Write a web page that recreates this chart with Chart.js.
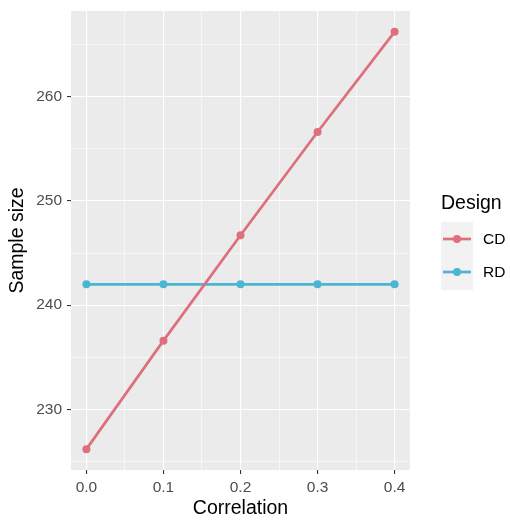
<!DOCTYPE html>
<html>
<head>
<meta charset="utf-8">
<script src="https://cdn.jsdelivr.net/npm/chart.js@4.4.0/dist/chart.umd.min.js"></script>
<style>
  body { margin: 0; background: #fff; }
  #wrap { width: 510px; height: 521px; }
</style>
</head>
<body>
<div id="wrap"><canvas id="diagramm" width="510" height="521"></canvas></div>
<script>
const correlation = [0.0, 0.1, 0.2, 0.3, 0.4];
const cdValues = [226.2, 236.6, 246.7, 256.6, 266.2];
const rdValues = [242.0, 242.0, 242.0, 242.0, 242.0];
const seriesNames = ["CD", "RD"];
const seriesColors = ["#DE6F7C", "#4BB6D1"];
const xGrid = [0, 0.05, 0.1, 0.15, 0.2, 0.25, 0.3, 0.35, 0.4];
const xMajor = [0, 0.1, 0.2, 0.3, 0.4];
const yGrid = [225, 230, 235, 240, 245, 250, 255, 260, 265];
const yMajor = [230, 240, 250, 260];

const font = "'Liberation Sans', Arial, sans-serif";

function isMajor(list, v) {
  return list.some((m) => Math.abs(m - v) < 1e-6);
}

const panelBg = {
  id: "panelBg",
  beforeDraw(chart) {
    const { ctx, chartArea: a } = chart;
    ctx.save();
    ctx.fillStyle = "#EBEBEB";
    ctx.fillRect(a.left, a.top, a.right - a.left, a.bottom - a.top);
    ctx.restore();
  },
};

const ggLegend = {
  id: "ggLegend",
  afterDraw(chart) {
    const ctx = chart.ctx;
    ctx.save();
    ctx.fillStyle = "#000";
    ctx.font = "19.5px " + font;
    ctx.textBaseline = "middle";
    ctx.textAlign = "left";
    ctx.fillText("Design", 441, 204);
    ctx.fillStyle = "#F2F2F2";
    ctx.fillRect(441, 222, 32, 68);
    chart.data.datasets.forEach((ds, i) => {
      const y = 239 + i * 33;
      ctx.strokeStyle = ds.borderColor;
      ctx.lineWidth = 2.7;
      ctx.beginPath();
      ctx.moveTo(443, y);
      ctx.lineTo(471, y);
      ctx.stroke();
      ctx.fillStyle = ds.borderColor;
      ctx.beginPath();
      ctx.arc(457, y, 4, 0, Math.PI * 2);
      ctx.fill();
      ctx.fillStyle = "#000";
      ctx.font = "15.5px " + font;
      ctx.fillText(ds.label, 483, y + 1);
    });
    ctx.restore();
  },
};

const ctx = document.getElementById("diagramm").getContext("2d");
new Chart(ctx, {
  type: "line",
  data: {
    datasets: [
      {
        label: seriesNames[0],
        data: correlation.map((x, i) => ({ x: x, y: cdValues[i] })),
        borderColor: seriesColors[0],
        backgroundColor: seriesColors[0],
        borderWidth: 2.7,
        pointRadius: 4,
        pointBorderWidth: 0,
        tension: 0,
      },
      {
        label: seriesNames[1],
        data: correlation.map((x, i) => ({ x: x, y: rdValues[i] })),
        borderColor: seriesColors[1],
        backgroundColor: seriesColors[1],
        borderWidth: 2.7,
        pointRadius: 4,
        pointBorderWidth: 0,
        tension: 0,
      },
    ],
  },
  options: {
    responsive: false,
    animation: false,
    layout: { padding: { top: 11, right: 100, left: 0, bottom: 0 } },
    plugins: { legend: { display: false }, tooltip: { enabled: false } },
    scales: {
      x: {
        type: "linear",
        min: -0.02,
        max: 0.42,
        afterBuildTicks: (scale) => {
          scale.ticks = xGrid.map((v) => ({ value: v }));
        },
        afterFit: (scale) => {
          scale.height = 51;
          scale.paddingLeft = 0;
          scale.paddingRight = 0;
        },
        border: { display: false },
        grid: {
          color: "#FFFFFF",
          lineWidth: (c) => (isMajor(xMajor, c.tick.value) ? 1.1 : 0.55),
          tickColor: (c) => (isMajor(xMajor, c.tick.value) ? "#333333" : "rgba(0,0,0,0)"),
          tickLength: 4,
          tickWidth: 1.1,
        },
        ticks: {
          color: "#4D4D4D",
          font: { family: font, size: 15.5 },
          padding: 4,
          maxRotation: 0,
          autoSkip: false,
          callback: (v) => (isMajor(xMajor, v) ? Number(v).toFixed(1) : ""),
        },
        title: {
          display: true,
          text: "Correlation",
          color: "#000",
          font: { family: font, size: 19.5 },
          padding: { top: 0, bottom: 1 },
        },
      },
      y: {
        min: 224.2,
        max: 268.2,
        afterBuildTicks: (scale) => {
          scale.ticks = yGrid.map((v) => ({ value: v }));
        },
        afterFit: (scale) => {
          scale.width = 71;
          scale.paddingTop = 0;
          scale.paddingBottom = 0;
        },
        border: { display: false },
        grid: {
          color: "#FFFFFF",
          lineWidth: (c) => (isMajor(yMajor, c.tick.value) ? 1.1 : 0.55),
          tickColor: (c) => (isMajor(yMajor, c.tick.value) ? "#333333" : "rgba(0,0,0,0)"),
          tickLength: 4,
          tickWidth: 1.1,
        },
        ticks: {
          color: "#4D4D4D",
          font: { family: font, size: 15.5 },
          padding: 5,
          autoSkip: false,
          callback: (v) => (isMajor(yMajor, v) ? String(v) : ""),
        },
        title: {
          display: true,
          text: "Sample size",
          color: "#000",
          font: { family: font, size: 19.5 },
          padding: { top: 6, bottom: 0 },
        },
      },
    },
  },
  plugins: [panelBg, ggLegend],
});
</script>
</body>
</html>
